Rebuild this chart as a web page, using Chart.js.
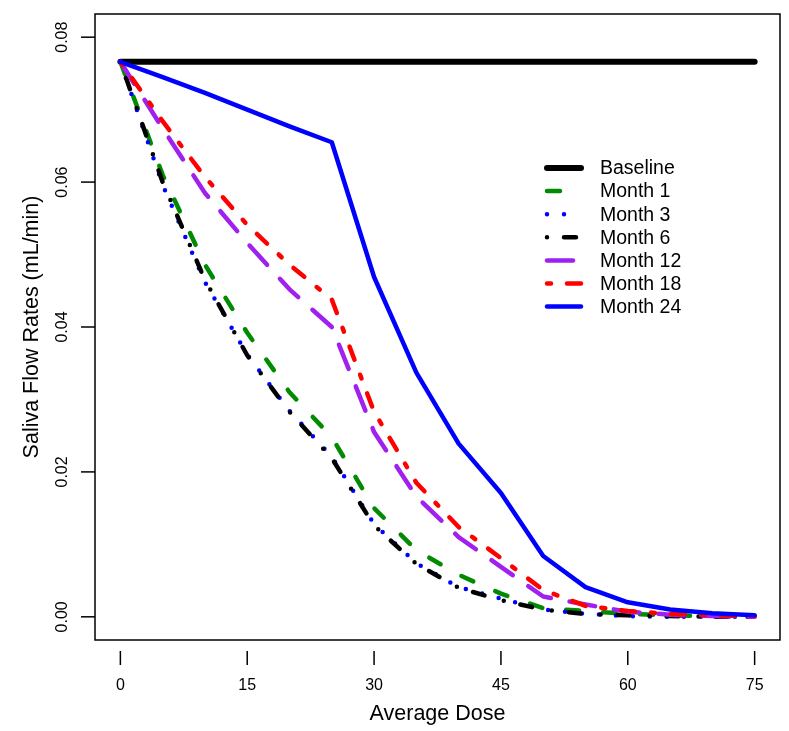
<!DOCTYPE html>
<html>
<head>
<meta charset="utf-8">
<script src="https://cdn.jsdelivr.net/npm/chart.js@4.4.1/dist/chart.umd.min.js"></script>
<style>
  html, body { margin: 0; padding: 0; background: #fff; }
  #wrap { width: 789px; height: 731px; position: relative; }
</style>
</head>
<body>
<div id="wrap"><canvas id="doseChart"></canvas></div>
<script>
// values
const doses    = [0, 5, 10, 15, 20, 25, 30, 35, 40, 45, 50, 55, 60, 65, 70, 75];
const baseline = [0.0766, 0.0766, 0.0766, 0.0766, 0.0766, 0.0766, 0.0766, 0.0766, 0.0766, 0.0766, 0.0766, 0.0766, 0.0766, 0.0766, 0.0766, 0.0766];
const month1   = [0.0766, 0.0610, 0.0486, 0.0392, 0.0310, 0.0248, 0.0150, 0.0092, 0.0058, 0.0032, 0.0012, 0.0008, 0.0004, 0.0002, 0.0001, 0.0001];
const month3   = [0.0766, 0.0596, 0.0462, 0.0362, 0.0284, 0.0221, 0.0128, 0.0074, 0.0041, 0.0025, 0.0010, 0.0004, 0.0001, 0.0000, 0.0000, 0.0000];
const month6   = [0.0766, 0.0600, 0.0465, 0.0361, 0.0283, 0.0219, 0.0126, 0.0073, 0.0040, 0.0023, 0.0010, 0.0004, 0.0002, 0.0001, 0.0000, 0.0000];
const month12  = [0.0766, 0.0674, 0.0585, 0.0516, 0.0452, 0.0400, 0.0255, 0.0166, 0.0110, 0.0069, 0.0028, 0.0017, 0.0007, 0.0003, 0.0001, 0.0000];
const month18  = [0.0766, 0.0684, 0.0607, 0.0541, 0.0486, 0.0438, 0.0283, 0.0185, 0.0124, 0.0081, 0.0037, 0.0015, 0.0008, 0.0004, 0.0002, 0.0001];
const month24  = [0.0766, 0.0745, 0.0723, 0.0700, 0.0677, 0.0655, 0.0469, 0.0337, 0.0239, 0.0171, 0.0084, 0.0041, 0.0020, 0.0010, 0.0005, 0.0002];

const seriesNames = ['Baseline', 'Month 1', 'Month 3', 'Month 6', 'Month 12', 'Month 18', 'Month 24'];
const xTicks = [0, 15, 30, 45, 60, 75];
const yTicks = [0, 0.02, 0.04, 0.06, 0.08];
const yTickLabels = ['0.00', '0.02', '0.04', '0.06', '0.08'];
const xTitle = 'Average Dose';
const yTitle = 'Saliva Flow Rates (mL/min)';

// line styles, same order as seriesNames
const colors = ['#000000', '#008B00', '#0000FF', '#000000', '#A020F0', '#FF0000', '#0000FF'];
const widths = [6, 4.5, 4.5, 4.5, 4.5, 4.5, 4.5];
const dashes = [[], [13, 24], [0, 17], [0, 17, 12, 20], [26, 19], [4, 16, 14, 16], []];

const FONT = '"Liberation Sans", Arial, Helvetica, sans-serif';

const allSeries = [baseline, month1, month3, month6, month12, month18, month24];
const datasets = allSeries.map((vals, i) => ({
    label: seriesNames[i],
    data: doses.map((d, k) => ({ x: d, y: vals[k] })),
    borderColor: colors[i],
    backgroundColor: colors[i],
    borderWidth: widths[i],
    borderDash: dashes[i],
    borderCapStyle: 'round',
    borderJoinStyle: 'round',
    pointRadius: 0,
    tension: 0,
    fill: false,
    order: allSeries.length - i
}));

// R style box, axes, titles and legend
const rFrame = {
    id: 'rFrame',
    afterDraw(chart) {
        const { ctx, chartArea: a, scales: { x, y } } = chart;
        ctx.save();
        ctx.strokeStyle = '#000';
        ctx.fillStyle = '#000';
        ctx.lineWidth = 1.5;
        ctx.setLineDash([]);
        ctx.strokeRect(a.left, a.top, a.right - a.left, a.bottom - a.top);

        ctx.font = '16px ' + FONT;
        ctx.textAlign = 'center';
        ctx.textBaseline = 'middle';
        xTicks.forEach(v => {
            const px = x.getPixelForValue(v);
            ctx.beginPath();
            ctx.moveTo(px, a.bottom + 11);
            ctx.lineTo(px, a.bottom + 25);
            ctx.stroke();
            ctx.fillText(String(v), px, a.bottom + 46);
        });
        yTicks.forEach((v, i) => {
            const py = y.getPixelForValue(v);
            ctx.beginPath();
            ctx.moveTo(a.left - 14, py);
            ctx.lineTo(a.left, py);
            ctx.stroke();
            ctx.save();
            ctx.translate(a.left - 32, py);
            ctx.rotate(-Math.PI / 2);
            ctx.fillText(yTickLabels[i], 0, 0);
            ctx.restore();
        });

        ctx.font = '21.5px ' + FONT;
        ctx.fillText(xTitle, (x.getPixelForValue(0) + x.getPixelForValue(75)) / 2, 714);
        ctx.save();
        ctx.translate(32, (y.getPixelForValue(0) + y.getPixelForValue(0.08)) / 2);
        ctx.rotate(-Math.PI / 2);
        ctx.fillText(yTitle, 0, 0);
        ctx.restore();

        // legend
        ctx.font = '19.5px ' + FONT;
        ctx.textAlign = 'left';
        chart.data.datasets.forEach((ds, i) => {
            const ly = 168 + i * 23.1;
            ctx.save();
            ctx.strokeStyle = ds.borderColor;
            ctx.lineWidth = ds.borderWidth;
            ctx.lineCap = 'round';
            ctx.setLineDash(ds.borderDash);
            ctx.beginPath();
            ctx.moveTo(547, ly);
            ctx.lineTo(581, ly);
            ctx.stroke();
            ctx.restore();
            ctx.fillText(ds.label, 600, ly + 1);
        });
        ctx.restore();
    }
};

new Chart(document.getElementById('doseChart'), {
    type: 'line',
    data: { datasets: datasets },
    options: {
        responsive: true,
        maintainAspectRatio: false,
        animation: false,
        devicePixelRatio: 1,
        layout: { padding: { left: 95, right: 9, top: 14, bottom: 91 } },
        scales: {
            x: { type: 'linear', min: -3, max: 78, display: false },
            y: { type: 'linear', min: -0.0032, max: 0.0832, display: false }
        },
        plugins: {
            legend: { display: false },
            tooltip: { enabled: false }
        }
    },
    plugins: [rFrame]
});
</script>
</body>
</html>
